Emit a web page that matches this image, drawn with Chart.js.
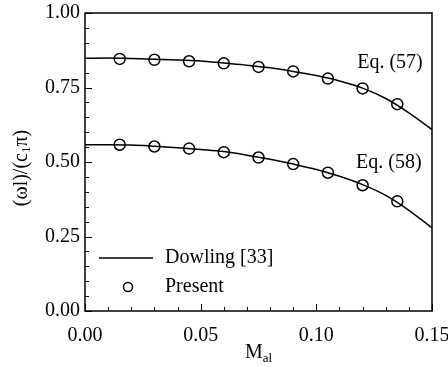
<!DOCTYPE html>
<html>
<head>
<meta charset="utf-8">
<script src="https://cdn.jsdelivr.net/npm/chart.js@4"></script>
<style>
  html, body { margin: 0; padding: 0; background: #fff; }
  #wrap { width: 448px; height: 367px; }
</style>
</head>
<body>
<div id="wrap"><canvas id="chart" width="448" height="367"></canvas></div>
<script>
// Dowling [33] curves
const lineX = [0, 0.01, 0.02, 0.03, 0.04, 0.05, 0.06, 0.07, 0.08, 0.09, 0.10, 0.11, 0.12, 0.13, 0.14, 0.15];
const eq57Line = [0.848, 0.849, 0.847, 0.845, 0.842, 0.839, 0.832, 0.825, 0.816, 0.804, 0.790, 0.772, 0.748, 0.713, 0.665, 0.609];
const eq58Line = [0.558, 0.558, 0.557, 0.553, 0.548, 0.542, 0.535, 0.523, 0.509, 0.493, 0.475, 0.452, 0.424, 0.388, 0.338, 0.279];

// Present results (circles)
const pointX = [0.015, 0.03, 0.045, 0.06, 0.075, 0.09, 0.105, 0.12, 0.135];
const eq57Points = [0.846, 0.843, 0.838, 0.831, 0.819, 0.804, 0.780, 0.747, 0.694];
const eq58Points = [0.558, 0.552, 0.545, 0.533, 0.515, 0.493, 0.464, 0.422, 0.368];

const xTicks = [0, 0.05, 0.10, 0.15];
const yTicks = [0, 0.25, 0.50, 0.75, 1.00];

const FONT = '"Liberation Serif", "Times New Roman", serif';

const toXY = (xs, ys) => xs.map((x, i) => ({ x: x, y: ys[i] }));

// frame, inward ticks, titles, labels and legend
const decorations = {
    id: 'decorations',
    afterDraw(chart) {
        const ctx = chart.ctx;
        const { left, right, top, bottom } = chart.chartArea;
        const xs = chart.scales.x;
        const ys = chart.scales.y;

        ctx.save();
        ctx.strokeStyle = '#000';
        ctx.lineWidth = 1.5;
        ctx.strokeRect(left, top, right - left, bottom - top);

        ctx.lineWidth = 1;
        ctx.beginPath();
        for (let i = 0; i <= 15; i++) {
            const px = Math.round(xs.getPixelForValue(i * 0.01)) + 0.5;
            const len = i % 5 === 0 ? 7 : 4;
            ctx.moveTo(px, bottom);
            ctx.lineTo(px, bottom - len);
        }
        for (let i = 0; i <= 20; i++) {
            const py = Math.round(ys.getPixelForValue(i * 0.05)) + 0.5;
            const len = i % 5 === 0 ? 7 : 4;
            ctx.moveTo(left, py);
            ctx.lineTo(left + len, py);
        }
        ctx.stroke();

        ctx.fillStyle = '#000';
        ctx.textBaseline = 'middle';

        // x title: M_al
        ctx.font = '20px ' + FONT;
        const mW = ctx.measureText('M').width;
        ctx.font = '13px ' + FONT;
        const subW = ctx.measureText('al').width;
        const cx = (left + right) / 2;
        let tx = cx - (mW + subW) / 2;
        ctx.font = '20px ' + FONT;
        ctx.textAlign = 'left';
        ctx.fillText('M', tx, 353);
        ctx.font = '13px ' + FONT;
        ctx.fillText('al', tx + mW, 359);

        // y title: (ωl)/(c1π), rotated
        ctx.save();
        ctx.translate(22, 168);
        ctx.rotate(-Math.PI / 2);
        const parts = [['(ωl)/(c', 20, 0], ['1', 13, 5], ['π)', 20, 0]];
        let total = 0;
        parts.forEach(p => { ctx.font = p[1] + 'px ' + FONT; total += ctx.measureText(p[0]).width; });
        let px0 = -total / 2;
        parts.forEach(p => {
            ctx.font = p[1] + 'px ' + FONT;
            ctx.fillText(p[0], px0, p[2]);
            px0 += ctx.measureText(p[0]).width;
        });
        ctx.restore();

        // curve labels
        ctx.font = '20px ' + FONT;
        ctx.textAlign = 'right';
        ctx.fillText('Eq. (57)', xs.getPixelForValue(0.146), ys.getPixelForValue(0.834));
        ctx.fillText('Eq. (58)', xs.getPixelForValue(0.1455), ys.getPixelForValue(0.497));

        // legend
        ctx.textAlign = 'left';
        ctx.lineWidth = 1.5;
        ctx.beginPath();
        ctx.moveTo(99, 258);
        ctx.lineTo(153, 258);
        ctx.stroke();
        ctx.fillText('Dowling [33]', 165, 258);
        ctx.beginPath();
        ctx.arc(128, 287, 4.5, 0, Math.PI * 2);
        ctx.stroke();
        ctx.fillText('Present', 165, 287);
        ctx.restore();
    }
};

const lineStyle = {
    type: 'line',
    borderColor: '#000',
    borderWidth: 1.5,
    pointRadius: 0,
    fill: false,
    cubicInterpolationMode: 'monotone'
};
const pointStyle = {
    type: 'scatter',
    borderColor: '#000',
    backgroundColor: 'rgba(0,0,0,0)',
    borderWidth: 1.5,
    pointRadius: 5.5,
    pointStyle: 'circle'
};

new Chart(document.getElementById('chart'), {
    data: {
        datasets: [
            Object.assign({ label: 'Eq. (57) Dowling', data: toXY(lineX, eq57Line) }, lineStyle),
            Object.assign({ label: 'Eq. (58) Dowling', data: toXY(lineX, eq58Line) }, lineStyle),
            Object.assign({ label: 'Eq. (57) Present', data: toXY(pointX, eq57Points) }, pointStyle),
            Object.assign({ label: 'Eq. (58) Present', data: toXY(pointX, eq58Points) }, pointStyle)
        ]
    },
    options: {
        responsive: false,
        animation: false,
        devicePixelRatio: 1,
        layout: { padding: { left: 0, right: 16, top: 13, bottom: 0 } },
        plugins: { legend: { display: false }, tooltip: { enabled: false } },
        scales: {
            x: {
                type: 'linear',
                min: 0,
                max: 0.15,
                grid: { display: false, drawTicks: false },
                border: { display: false },
                afterBuildTicks: s => { s.ticks = xTicks.map(v => ({ value: v })); },
                afterFit: s => { s.height = 56; s.paddingLeft = 0; s.paddingRight = 0; },
                ticks: {
                    color: '#000',
                    padding: 13,
                    maxRotation: 0,
                    font: { family: FONT, size: 20 },
                    callback: v => v.toFixed(2)
                }
            },
            y: {
                type: 'linear',
                min: 0,
                max: 1,
                grid: { display: false, drawTicks: false },
                border: { display: false },
                afterBuildTicks: s => { s.ticks = yTicks.map(v => ({ value: v })); },
                afterFit: s => { s.width = 85; s.paddingTop = 0; s.paddingBottom = 0; },
                ticks: {
                    color: '#000',
                    padding: 5,
                    font: { family: FONT, size: 20 },
                    callback: v => v.toFixed(2)
                }
            }
        }
    },
    plugins: [decorations]
});
</script>
</body>
</html>
